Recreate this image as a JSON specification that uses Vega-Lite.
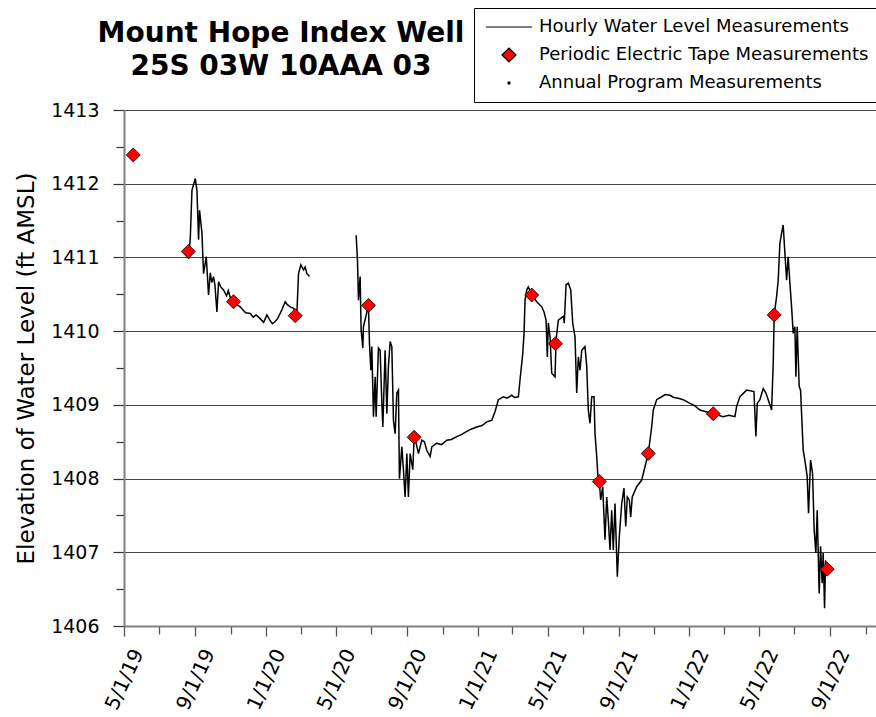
{
  "$schema": "https://vega.github.io/schema/vega-lite/v6.json",
  "width": 752,
  "height": 516,
  "autosize": {"type": "none"},
  "padding": {"left": 124, "top": 110, "right": 0, "bottom": 91},
  "background": "white",
  "config": {
    "view": {"stroke": null},
    "font": "DejaVu Sans"
  },
  "title": {
    "text": ["Mount Hope Index Well", "25S 03W 10AAA 03"],
    "font": "DejaVu Sans",
    "fontSize": 28,
    "fontWeight": "bold",
    "color": "black",
    "anchor": "start",
    "frame": "group",
    "align": "center",
    "dx": 157,
    "dy": 93,
    "lineHeight": 33,
    "offset": 20
  },
  "datasets": {
    "hourly": [
      {"d": "2019-08-20T10:00", "v": 1410.98, "s": 1},
      {"d": "2019-08-23T10:00", "v": 1411.26, "s": 1},
      {"d": "2019-08-26T07:00", "v": 1411.91, "s": 1},
      {"d": "2019-09-01T00:00", "v": 1412.07, "s": 1},
      {"d": "2019-09-03T22:00", "v": 1411.91, "s": 1},
      {"d": "2019-09-06T17:00", "v": 1411.24, "s": 1},
      {"d": "2019-09-08T10:00", "v": 1411.64, "s": 1},
      {"d": "2019-09-12T14:00", "v": 1411.33, "s": 1},
      {"d": "2019-09-15T07:00", "v": 1410.78, "s": 1},
      {"d": "2019-09-20T00:00", "v": 1411.01, "s": 1},
      {"d": "2019-09-23T22:00", "v": 1410.49, "s": 1},
      {"d": "2019-09-26T22:00", "v": 1410.79, "s": 1},
      {"d": "2019-09-29T12:00", "v": 1410.66, "s": 1},
      {"d": "2019-10-02T14:00", "v": 1410.74, "s": 1},
      {"d": "2019-10-05T00:00", "v": 1410.62, "s": 1},
      {"d": "2019-10-08T10:00", "v": 1410.26, "s": 1},
      {"d": "2019-10-11T05:00", "v": 1410.67, "s": 1},
      {"d": "2019-10-15T00:00", "v": 1410.60, "s": 1},
      {"d": "2019-10-19T19:00", "v": 1410.56, "s": 1},
      {"d": "2019-10-25T00:00", "v": 1410.48, "s": 1},
      {"d": "2019-10-28T00:00", "v": 1410.55, "s": 1},
      {"d": "2019-11-01T00:00", "v": 1410.44, "s": 1},
      {"d": "2019-11-06T00:00", "v": 1410.40, "s": 1},
      {"d": "2019-11-12T00:00", "v": 1410.36, "s": 1},
      {"d": "2019-11-17T14:00", "v": 1410.33, "s": 1},
      {"d": "2019-11-22T00:00", "v": 1410.29, "s": 1},
      {"d": "2019-11-27T00:00", "v": 1410.25, "s": 1},
      {"d": "2019-12-04T22:00", "v": 1410.24, "s": 1},
      {"d": "2019-12-10T00:00", "v": 1410.19, "s": 1},
      {"d": "2019-12-15T00:00", "v": 1410.22, "s": 1},
      {"d": "2019-12-22T00:00", "v": 1410.17, "s": 1},
      {"d": "2019-12-28T00:00", "v": 1410.12, "s": 1},
      {"d": "2020-01-02T17:00", "v": 1410.22, "s": 1},
      {"d": "2020-01-07T00:00", "v": 1410.16, "s": 1},
      {"d": "2020-01-12T00:00", "v": 1410.10, "s": 1},
      {"d": "2020-01-17T00:00", "v": 1410.13, "s": 1},
      {"d": "2020-01-21T00:00", "v": 1410.17, "s": 1},
      {"d": "2020-01-25T14:00", "v": 1410.24, "s": 1},
      {"d": "2020-01-29T00:00", "v": 1410.30, "s": 1},
      {"d": "2020-02-03T05:00", "v": 1410.40, "s": 1},
      {"d": "2020-02-07T00:00", "v": 1410.36, "s": 1},
      {"d": "2020-02-12T00:00", "v": 1410.33, "s": 1},
      {"d": "2020-02-17T14:00", "v": 1410.31, "s": 1},
      {"d": "2020-02-23T10:00", "v": 1410.24, "s": 1},
      {"d": "2020-02-26T05:00", "v": 1410.78, "s": 1},
      {"d": "2020-03-01T07:00", "v": 1410.90, "s": 1},
      {"d": "2020-03-05T19:00", "v": 1410.83, "s": 1},
      {"d": "2020-03-08T17:00", "v": 1410.87, "s": 1},
      {"d": "2020-03-11T17:00", "v": 1410.78, "s": 1},
      {"d": "2020-03-16T05:00", "v": 1410.74, "s": 1},
      {"d": "2020-06-04T17:00", "v": 1411.30, "s": 2},
      {"d": "2020-06-07T00:00", "v": 1410.96, "s": 2},
      {"d": "2020-06-08T17:00", "v": 1410.42, "s": 2},
      {"d": "2020-06-11T14:00", "v": 1410.74, "s": 2},
      {"d": "2020-06-13T07:00", "v": 1410.02, "s": 2},
      {"d": "2020-06-16T07:00", "v": 1409.77, "s": 2},
      {"d": "2020-06-17T07:00", "v": 1410.06, "s": 2},
      {"d": "2020-06-25T22:00", "v": 1410.35, "s": 2},
      {"d": "2020-06-27T17:00", "v": 1409.83, "s": 2},
      {"d": "2020-06-30T02:00", "v": 1409.47, "s": 2},
      {"d": "2020-07-01T19:00", "v": 1409.79, "s": 2},
      {"d": "2020-07-04T14:00", "v": 1408.84, "s": 2},
      {"d": "2020-07-07T12:00", "v": 1409.38, "s": 2},
      {"d": "2020-07-09T05:00", "v": 1408.84, "s": 2},
      {"d": "2020-07-13T05:00", "v": 1409.77, "s": 2},
      {"d": "2020-07-16T02:00", "v": 1409.74, "s": 2},
      {"d": "2020-07-19T02:00", "v": 1409.02, "s": 2},
      {"d": "2020-07-20T19:00", "v": 1408.70, "s": 2},
      {"d": "2020-07-24T17:00", "v": 1409.74, "s": 2},
      {"d": "2020-07-27T17:00", "v": 1408.88, "s": 2},
      {"d": "2020-07-30T10:00", "v": 1409.52, "s": 2},
      {"d": "2020-08-02T10:00", "v": 1409.86, "s": 2},
      {"d": "2020-08-05T07:00", "v": 1409.79, "s": 2},
      {"d": "2020-08-08T02:00", "v": 1408.79, "s": 2},
      {"d": "2020-08-11T00:00", "v": 1408.61, "s": 2},
      {"d": "2020-08-13T22:00", "v": 1409.16, "s": 2},
      {"d": "2020-08-16T17:00", "v": 1409.20, "s": 2},
      {"d": "2020-08-18T10:00", "v": 1408.00, "s": 2},
      {"d": "2020-08-22T14:00", "v": 1408.43, "s": 2},
      {"d": "2020-08-25T07:00", "v": 1408.12, "s": 2},
      {"d": "2020-08-28T05:00", "v": 1407.75, "s": 2},
      {"d": "2020-08-31T05:00", "v": 1408.34, "s": 2},
      {"d": "2020-09-02T22:00", "v": 1407.75, "s": 2},
      {"d": "2020-09-05T22:00", "v": 1408.34, "s": 2},
      {"d": "2020-09-10T12:00", "v": 1408.12, "s": 2},
      {"d": "2020-09-12T19:00", "v": 1408.56, "s": 2},
      {"d": "2020-09-16T05:00", "v": 1408.48, "s": 2},
      {"d": "2020-09-20T05:00", "v": 1408.34, "s": 2},
      {"d": "2020-09-26T02:00", "v": 1408.52, "s": 2},
      {"d": "2020-09-30T12:00", "v": 1408.50, "s": 2},
      {"d": "2020-10-04T17:00", "v": 1408.38, "s": 2},
      {"d": "2020-10-10T10:00", "v": 1408.30, "s": 2},
      {"d": "2020-10-13T07:00", "v": 1408.43, "s": 2},
      {"d": "2020-10-21T22:00", "v": 1408.48, "s": 2},
      {"d": "2020-10-30T00:00", "v": 1408.46, "s": 2},
      {"d": "2020-11-08T05:00", "v": 1408.52, "s": 2},
      {"d": "2020-11-16T00:00", "v": 1408.53, "s": 2},
      {"d": "2020-11-25T10:00", "v": 1408.57, "s": 2},
      {"d": "2020-12-04T00:00", "v": 1408.60, "s": 2},
      {"d": "2020-12-12T17:00", "v": 1408.64, "s": 2},
      {"d": "2020-12-20T00:00", "v": 1408.67, "s": 2},
      {"d": "2020-12-29T22:00", "v": 1408.70, "s": 2},
      {"d": "2021-01-08T00:00", "v": 1408.72, "s": 2},
      {"d": "2021-01-16T05:00", "v": 1408.77, "s": 2},
      {"d": "2021-01-24T19:00", "v": 1408.79, "s": 2},
      {"d": "2021-01-30T12:00", "v": 1408.91, "s": 2},
      {"d": "2021-02-05T05:00", "v": 1409.07, "s": 2},
      {"d": "2021-02-13T19:00", "v": 1409.11, "s": 2},
      {"d": "2021-02-20T00:00", "v": 1409.09, "s": 2},
      {"d": "2021-02-28T07:00", "v": 1409.13, "s": 2},
      {"d": "2021-03-05T00:00", "v": 1409.10, "s": 2},
      {"d": "2021-03-11T17:00", "v": 1409.11, "s": 2},
      {"d": "2021-03-14T14:00", "v": 1409.34, "s": 2},
      {"d": "2021-03-19T07:00", "v": 1409.70, "s": 2},
      {"d": "2021-03-21T12:00", "v": 1409.97, "s": 2},
      {"d": "2021-03-23T05:00", "v": 1410.42, "s": 2},
      {"d": "2021-03-26T05:00", "v": 1410.56, "s": 2},
      {"d": "2021-03-28T22:00", "v": 1410.60, "s": 2},
      {"d": "2021-04-03T19:00", "v": 1410.49, "s": 2},
      {"d": "2021-04-12T10:00", "v": 1410.40, "s": 2},
      {"d": "2021-04-21T02:00", "v": 1410.33, "s": 2},
      {"d": "2021-04-25T00:00", "v": 1410.26, "s": 2},
      {"d": "2021-04-28T12:00", "v": 1410.15, "s": 2},
      {"d": "2021-04-30T17:00", "v": 1409.65, "s": 2},
      {"d": "2021-05-02T10:00", "v": 1410.11, "s": 2},
      {"d": "2021-05-05T10:00", "v": 1409.92, "s": 2},
      {"d": "2021-05-08T07:00", "v": 1409.43, "s": 2},
      {"d": "2021-05-14T00:00", "v": 1409.38, "s": 2},
      {"d": "2021-05-15T17:00", "v": 1409.88, "s": 2},
      {"d": "2021-05-19T17:00", "v": 1410.15, "s": 2},
      {"d": "2021-05-28T07:00", "v": 1410.20, "s": 2},
      {"d": "2021-05-30T00:00", "v": 1410.11, "s": 2},
      {"d": "2021-06-02T00:00", "v": 1410.63, "s": 2},
      {"d": "2021-06-05T22:00", "v": 1410.65, "s": 2},
      {"d": "2021-06-10T02:00", "v": 1410.56, "s": 2},
      {"d": "2021-06-13T12:00", "v": 1410.11, "s": 2},
      {"d": "2021-06-17T12:00", "v": 1409.92, "s": 2},
      {"d": "2021-06-20T10:00", "v": 1409.16, "s": 2},
      {"d": "2021-06-23T05:00", "v": 1409.65, "s": 2},
      {"d": "2021-06-26T02:00", "v": 1409.47, "s": 2},
      {"d": "2021-06-29T02:00", "v": 1409.74, "s": 2},
      {"d": "2021-07-04T17:00", "v": 1409.79, "s": 2},
      {"d": "2021-07-07T17:00", "v": 1409.52, "s": 2},
      {"d": "2021-07-10T10:00", "v": 1408.93, "s": 2},
      {"d": "2021-07-13T10:00", "v": 1408.75, "s": 2},
      {"d": "2021-07-16T07:00", "v": 1409.11, "s": 2},
      {"d": "2021-07-20T07:00", "v": 1409.11, "s": 2},
      {"d": "2021-07-22T00:00", "v": 1408.61, "s": 2},
      {"d": "2021-07-24T22:00", "v": 1408.30, "s": 2},
      {"d": "2021-07-27T17:00", "v": 1407.94, "s": 2},
      {"d": "2021-07-29T10:00", "v": 1407.96, "s": 2},
      {"d": "2021-07-31T19:00", "v": 1407.71, "s": 2},
      {"d": "2021-08-04T07:00", "v": 1407.89, "s": 2},
      {"d": "2021-08-08T05:00", "v": 1407.17, "s": 2},
      {"d": "2021-08-11T05:00", "v": 1407.75, "s": 2},
      {"d": "2021-08-13T22:00", "v": 1407.44, "s": 2},
      {"d": "2021-08-16T22:00", "v": 1407.03, "s": 2},
      {"d": "2021-08-19T19:00", "v": 1407.57, "s": 2},
      {"d": "2021-08-22T14:00", "v": 1407.03, "s": 2},
      {"d": "2021-08-25T12:00", "v": 1407.66, "s": 2},
      {"d": "2021-08-29T12:00", "v": 1406.67, "s": 2},
      {"d": "2021-09-01T22:00", "v": 1407.21, "s": 2},
      {"d": "2021-09-06T02:00", "v": 1407.66, "s": 2},
      {"d": "2021-09-10T00:00", "v": 1407.87, "s": 2},
      {"d": "2021-09-13T00:00", "v": 1407.35, "s": 2},
      {"d": "2021-09-15T17:00", "v": 1407.75, "s": 2},
      {"d": "2021-09-19T05:00", "v": 1407.71, "s": 2},
      {"d": "2021-09-21T14:00", "v": 1407.48, "s": 2},
      {"d": "2021-09-24T07:00", "v": 1407.75, "s": 2},
      {"d": "2021-10-01T22:00", "v": 1407.89, "s": 2},
      {"d": "2021-10-10T14:00", "v": 1407.98, "s": 2},
      {"d": "2021-10-21T22:00", "v": 1408.34, "s": 2},
      {"d": "2021-10-27T19:00", "v": 1408.70, "s": 2},
      {"d": "2021-10-30T14:00", "v": 1408.93, "s": 2},
      {"d": "2021-11-05T10:00", "v": 1409.07, "s": 2},
      {"d": "2021-11-14T02:00", "v": 1409.11, "s": 2},
      {"d": "2021-11-20T00:00", "v": 1409.14, "s": 2},
      {"d": "2021-11-28T10:00", "v": 1409.13, "s": 2},
      {"d": "2021-12-05T00:00", "v": 1409.10, "s": 2},
      {"d": "2021-12-12T17:00", "v": 1409.09, "s": 2},
      {"d": "2021-12-21T07:00", "v": 1409.07, "s": 2},
      {"d": "2022-01-01T22:00", "v": 1409.02, "s": 2},
      {"d": "2022-01-10T00:00", "v": 1408.99, "s": 2},
      {"d": "2022-01-19T02:00", "v": 1408.93, "s": 2},
      {"d": "2022-01-28T00:00", "v": 1408.91, "s": 2},
      {"d": "2022-02-11T02:00", "v": 1408.88, "s": 2},
      {"d": "2022-02-20T00:00", "v": 1408.86, "s": 2},
      {"d": "2022-02-28T07:00", "v": 1408.84, "s": 2},
      {"d": "2022-03-10T00:00", "v": 1408.86, "s": 2},
      {"d": "2022-03-20T12:00", "v": 1408.84, "s": 2},
      {"d": "2022-03-23T10:00", "v": 1408.98, "s": 2},
      {"d": "2022-03-29T02:00", "v": 1409.11, "s": 2},
      {"d": "2022-04-09T17:00", "v": 1409.20, "s": 2},
      {"d": "2022-04-22T07:00", "v": 1409.18, "s": 2},
      {"d": "2022-04-24T00:00", "v": 1408.88, "s": 2},
      {"d": "2022-04-25T17:00", "v": 1408.57, "s": 2},
      {"d": "2022-04-28T00:00", "v": 1409.02, "s": 2},
      {"d": "2022-05-02T14:00", "v": 1409.07, "s": 2},
      {"d": "2022-05-08T07:00", "v": 1409.22, "s": 2},
      {"d": "2022-05-13T00:00", "v": 1409.16, "s": 2},
      {"d": "2022-05-16T22:00", "v": 1409.07, "s": 2},
      {"d": "2022-05-22T19:00", "v": 1408.93, "s": 2},
      {"d": "2022-05-25T14:00", "v": 1409.56, "s": 2},
      {"d": "2022-05-27T07:00", "v": 1410.22, "s": 2},
      {"d": "2022-05-31T10:00", "v": 1410.47, "s": 2},
      {"d": "2022-06-03T05:00", "v": 1410.69, "s": 2},
      {"d": "2022-06-06T02:00", "v": 1411.19, "s": 2},
      {"d": "2022-06-09T02:00", "v": 1411.33, "s": 2},
      {"d": "2022-06-11T19:00", "v": 1411.44, "s": 2},
      {"d": "2022-06-14T17:00", "v": 1411.06, "s": 2},
      {"d": "2022-06-17T17:00", "v": 1410.69, "s": 2},
      {"d": "2022-06-20T10:00", "v": 1411.01, "s": 2},
      {"d": "2022-06-23T10:00", "v": 1410.65, "s": 2},
      {"d": "2022-06-26T07:00", "v": 1410.33, "s": 2},
      {"d": "2022-06-29T02:00", "v": 1409.97, "s": 2},
      {"d": "2022-07-02T00:00", "v": 1410.06, "s": 2},
      {"d": "2022-07-03T17:00", "v": 1409.38, "s": 2},
      {"d": "2022-07-06T00:00", "v": 1410.06, "s": 2},
      {"d": "2022-07-09T10:00", "v": 1409.25, "s": 2},
      {"d": "2022-07-11T19:00", "v": 1409.20, "s": 2},
      {"d": "2022-07-16T07:00", "v": 1408.39, "s": 2},
      {"d": "2022-07-19T05:00", "v": 1408.25, "s": 2},
      {"d": "2022-07-23T05:00", "v": 1408.03, "s": 2},
      {"d": "2022-07-25T14:00", "v": 1407.53, "s": 2},
      {"d": "2022-07-29T02:00", "v": 1408.25, "s": 2},
      {"d": "2022-08-01T12:00", "v": 1408.07, "s": 2},
      {"d": "2022-08-04T07:00", "v": 1407.30, "s": 2},
      {"d": "2022-08-07T05:00", "v": 1406.99, "s": 2},
      {"d": "2022-08-09T12:00", "v": 1407.57, "s": 2},
      {"d": "2022-08-12T22:00", "v": 1406.44, "s": 2},
      {"d": "2022-08-15T07:00", "v": 1407.08, "s": 2},
      {"d": "2022-08-18T02:00", "v": 1406.58, "s": 2},
      {"d": "2022-08-19T19:00", "v": 1406.99, "s": 2},
      {"d": "2022-08-22T05:00", "v": 1406.24, "s": 2},
      {"d": "2022-08-24T00:00", "v": 1406.89, "s": 2},
      {"d": "2022-08-26T17:00", "v": 1406.77, "s": 2}
    ],
    "tape": [
      {"d": "2019-05-17T00:00", "v": 1412.39, "series": "Periodic Electric Tape Measurements"},
      {"d": "2019-08-20T00:00", "v": 1411.08, "series": "Periodic Electric Tape Measurements"},
      {"d": "2019-11-06T00:00", "v": 1410.40, "series": "Periodic Electric Tape Measurements"},
      {"d": "2020-02-20T12:00", "v": 1410.21, "series": "Periodic Electric Tape Measurements"},
      {"d": "2020-06-26T00:00", "v": 1410.35, "series": "Periodic Electric Tape Measurements"},
      {"d": "2020-09-12T19:00", "v": 1408.56, "series": "Periodic Electric Tape Measurements"},
      {"d": "2021-04-03T19:00", "v": 1410.49, "series": "Periodic Electric Tape Measurements"},
      {"d": "2021-05-14T17:00", "v": 1409.83, "series": "Periodic Electric Tape Measurements"},
      {"d": "2021-07-29T10:00", "v": 1407.96, "series": "Periodic Electric Tape Measurements"},
      {"d": "2021-10-21T22:00", "v": 1408.34, "series": "Periodic Electric Tape Measurements"},
      {"d": "2022-02-11T00:00", "v": 1408.88, "series": "Periodic Electric Tape Measurements"},
      {"d": "2022-05-27T07:00", "v": 1410.22, "series": "Periodic Electric Tape Measurements"},
      {"d": "2022-08-26T17:00", "v": 1406.77, "series": "Periodic Electric Tape Measurements"}
    ]
  },
  "encoding": {
    "x": {
      "field": "d",
      "type": "temporal",
      "scale": {"domain": [{"year": 2019, "month": 5, "date": 1}, {"year": 2022, "month": 11, "date": 19}], "nice": false},
      "axis": {
        "title": null,
        "grid": false,
        "values": [
          {"year": 2019, "month": 5, "date": 1}, {"year": 2019, "month": 7, "date": 1}, {"year": 2019, "month": 9, "date": 1}, {"year": 2019, "month": 11, "date": 1},
          {"year": 2020, "month": 1, "date": 1}, {"year": 2020, "month": 3, "date": 1}, {"year": 2020, "month": 5, "date": 1}, {"year": 2020, "month": 7, "date": 1}, {"year": 2020, "month": 9, "date": 1}, {"year": 2020, "month": 11, "date": 1},
          {"year": 2021, "month": 1, "date": 1}, {"year": 2021, "month": 3, "date": 1}, {"year": 2021, "month": 5, "date": 1}, {"year": 2021, "month": 7, "date": 1}, {"year": 2021, "month": 9, "date": 1}, {"year": 2021, "month": 11, "date": 1},
          {"year": 2022, "month": 1, "date": 1}, {"year": 2022, "month": 3, "date": 1}, {"year": 2022, "month": 5, "date": 1}, {"year": 2022, "month": 7, "date": 1}, {"year": 2022, "month": 9, "date": 1}, {"year": 2022, "month": 11, "date": 1}
        ],
        "labelExpr": "month(datum.value) % 4 == 0 ? timeFormat(datum.value, '%-m/%-d/%y') : ''",
        "labelAngle": -65,
        "labelAlign": "right",
        "labelBaseline": "middle",
        "labelFont": "DejaVu Sans",
        "labelFontSize": 20,
        "labelColor": "black",
        "labelPadding": 14,
        "labelOffset": 14,
        "labelOverlap": false,
        "labelFlush": false,
        "tickSize": {"condition": {"test": "month(datum.value) % 4 == 0", "value": 10}, "value": 8},
        "tickColor": "#555555",
        "tickWidth": 1.3,
        "domainColor": "#808080",
        "domainWidth": 2
      }
    },
    "y": {
      "field": "v",
      "type": "quantitative",
      "scale": {"domain": [1406, 1413], "nice": false, "zero": false},
      "axis": {
        "title": "Elevation of Water Level (ft AMSL)",
        "titleFont": "DejaVu Sans",
        "titleFontSize": 23,
        "titleFontWeight": "normal",
        "titleColor": "black",
        "titlePadding": 12,
        "values": [1406, 1406.5, 1407, 1407.5, 1408, 1408.5, 1409, 1409.5, 1410, 1410.5, 1411, 1411.5, 1412, 1412.5, 1413],
        "labelExpr": "datum.value % 1 == 0 ? format(datum.value, 'd') : ''",
        "labelFont": "DejaVu Sans",
        "labelFontSize": 19,
        "labelColor": "black",
        "labelPadding": 14,
        "labelOverlap": false,
        "labelFlush": false,
        "tickSize": {"condition": {"test": "datum.value % 1 == 0", "value": 11}, "value": 8},
        "tickColor": "#333333",
        "tickWidth": 1.2,
        "grid": true,
        "gridColor": "#444444",
        "gridWidth": 1.2,
        "gridOpacity": {"condition": {"test": "datum.value % 1 == 0", "value": 1}, "value": 0},
        "domainColor": "#808080",
        "domainWidth": 2
      }
    }
  },
  "layer": [
    {
      "data": {"name": "hourly"},
      "mark": {"type": "line", "color": "black", "strokeWidth": 1.5, "strokeJoin": "miter"},
      "encoding": {"detail": {"field": "s", "type": "nominal"}}
    },
    {
      "data": {"name": "tape"},
      "mark": {"type": "point", "filled": true, "size": 196, "stroke": "black", "strokeWidth": 0.8, "opacity": 1},
      "encoding": {
        "shape": {
          "field": "series",
          "type": "nominal",
          "scale": {
            "domain": ["Hourly Water Level Measurements", "Periodic Electric Tape Measurements", "Annual Program Measurements"],
            "range": ["M-3.3,0H3.3", "diamond", "M-0.12,-0.12H0.12V0.12H-0.12Z"]
          },
          "legend": {
            "title": null,
            "orient": "none",
            "legendX": 350,
            "legendY": -102,
            "strokeColor": "black",
            "fillColor": "white",
            "padding": 10,
            "cornerRadius": 0,
            "labelFont": "DejaVu Sans",
            "labelFontSize": 18,
            "labelColor": "black",
            "labelLimit": 500,
            "labelOffset": 21,
            "symbolOffset": 16,
            "symbolSize": 196,
            "symbolStrokeColor": "black",
            "symbolStrokeWidth": 1.2,
            "symbolOpacity": 1,
            "rowPadding": 9,
            "encode": {"symbols": {"update": {"stroke": {"value": "black"}, "strokeWidth": {"value": 1.2}}}}
          }
        },
        "fill": {
          "field": "series",
          "type": "nominal",
          "scale": {
            "domain": ["Hourly Water Level Measurements", "Periodic Electric Tape Measurements", "Annual Program Measurements"],
            "range": ["black", "#ff0000", "black"]
          },
          "legend": {
            "title": null,
            "orient": "none",
            "legendX": 350,
            "legendY": -102,
            "strokeColor": "black",
            "fillColor": "white",
            "padding": 10,
            "cornerRadius": 0,
            "labelFont": "DejaVu Sans",
            "labelFontSize": 18,
            "labelColor": "black",
            "labelLimit": 500,
            "labelOffset": 21,
            "symbolOffset": 16,
            "symbolSize": 196,
            "symbolStrokeColor": "black",
            "symbolStrokeWidth": 1.2,
            "symbolOpacity": 1,
            "rowPadding": 9,
            "encode": {"symbols": {"update": {"stroke": {"value": "black"}, "strokeWidth": {"value": 1.2}}}}
          }
        }
      }
    }
  ]
}
